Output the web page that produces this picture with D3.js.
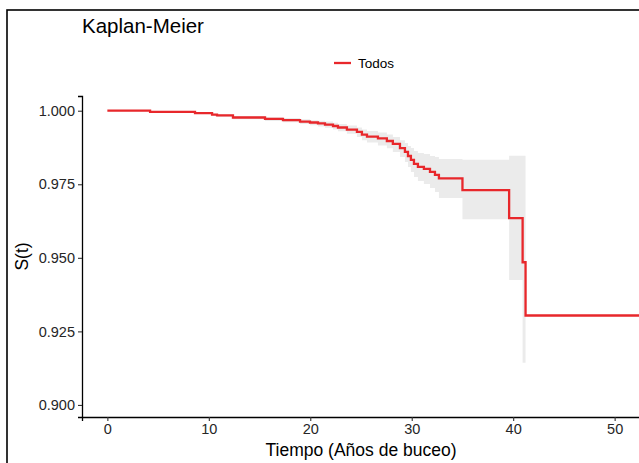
<!DOCTYPE html>
<html>
<head>
<meta charset="utf-8">
<script src="https://cdn.jsdelivr.net/npm/d3@7/dist/d3.min.js"></script>
<style>
  html, body { margin: 0; padding: 0; background: #fff; }
  svg { display: block; font-family: "Liberation Sans", Arial, sans-serif; }
</style>
</head>
<body>
<svg id="chart" width="639" height="463"></svg>
<script>
// ---- data ----
const times   = [0, 4.21, 8.64, 10.32, 10.81, 12.38, 15.54, 17.31, 18.99, 19.97, 20.76, 21.45, 22.24, 22.73, 23.61, 24.60, 25.09, 25.59, 26.67, 27.55, 28.14, 28.84, 29.33, 29.63, 29.92, 30.22, 30.61, 31.20, 31.80, 32.29, 32.68, 35.0, 39.6, 40.93, 41.22];
const surv    = [1.0000, 0.9996, 0.9992, 0.9987, 0.9984, 0.9977, 0.9972, 0.9968, 0.9963, 0.9960, 0.9957, 0.9953, 0.9948, 0.9943, 0.9936, 0.9928, 0.9919, 0.9912, 0.9906, 0.9897, 0.9887, 0.9873, 0.9860, 0.9846, 0.9833, 0.9819, 0.9809, 0.9802, 0.9792, 0.9782, 0.9770, 0.9730, 0.9635, 0.9485, 0.9304];
const upper   = [1.0000, 0.9998, 0.9996, 0.9990, 0.9988, 0.9982, 0.9978, 0.9975, 0.9971, 0.9968, 0.9966, 0.9963, 0.9959, 0.9955, 0.9950, 0.9943, 0.9936, 0.9931, 0.9926, 0.9919, 0.9911, 0.9900, 0.9890, 0.9880, 0.9873, 0.9863, 0.9856, 0.9853, 0.9846, 0.9843, 0.9836, 0.9833, 0.9847, 0.9847];
const lower   = [0.9998, 0.9993, 0.9989, 0.9983, 0.9979, 0.9971, 0.9965, 0.9961, 0.9955, 0.9951, 0.9946, 0.9942, 0.9936, 0.9930, 0.9922, 0.9911, 0.9900, 0.9892, 0.9882, 0.9872, 0.9860, 0.9843, 0.9826, 0.9809, 0.9792, 0.9775, 0.9761, 0.9751, 0.9737, 0.9724, 0.9703, 0.9631, 0.9425, 0.9143];
const lastTime = 53;
const xTicks = [0, 10, 20, 30, 40, 50];
const yTicks = [0.900, 0.925, 0.950, 0.975, 1.000];
const seriesName = "Todos";
const titleText = "Kaplan-Meier";
const xLabel = "Tiempo (Años de buceo)";
const yLabel = "S(t)";

// ---- layout ----
const svg = d3.select("#chart");
const pLeft = 82, pRight = 640, pTop = 96, pBottom = 417;
const x = d3.scaleLinear().domain([-2.5, 52.5]).range([pLeft, pRight]);
const y = d3.scaleLinear().domain([0.8959, 1.0050]).range([pBottom, pTop]);

// outer border (cropped)
svg.append("rect").attr("x", 7).attr("y", 10).attr("width", 700).attr("height", 500)
  .attr("fill", "none").attr("stroke", "#000").attr("stroke-width", 1.6);

svg.append("defs").append("clipPath").attr("id", "clip")
  .append("rect").attr("x", pLeft).attr("y", pTop - 5).attr("width", pRight - pLeft).attr("height", pBottom - pTop + 5);

const g = svg.append("g").attr("clip-path", "url(#clip)");

// confidence band
const bandEnd = times[upper.length];
const bandData = upper.map((u, i) => ({t: times[i], u: u, l: lower[i]}));
bandData.push({t: bandEnd, u: upper[upper.length - 1], l: lower[lower.length - 1]});
g.append("path")
  .datum(bandData)
  .attr("fill", "#ebebeb")
  .attr("d", d3.area().curve(d3.curveStepAfter)
    .x(d => x(d.t)).y0(d => y(d.l)).y1(d => y(d.u)));

// survival curve
const lineData = times.map((t, i) => ({t: t, s: surv[i]}));
lineData.push({t: lastTime, s: surv[surv.length - 1]});
g.append("path")
  .datum(lineData)
  .attr("fill", "none")
  .attr("stroke", "#e8272b")
  .attr("stroke-width", 2.3)
  .attr("d", d3.line().curve(d3.curveStepAfter).x(d => x(d.t)).y(d => y(d.s)));

// axes
const xAxis = svg.append("g").attr("transform", `translate(0,${pBottom})`)
  .call(d3.axisBottom(x).tickValues(xTicks).tickFormat(d3.format("d")).tickSizeOuter(0).tickSize(4).tickPadding(3));
const yAxis = svg.append("g").attr("transform", `translate(${pLeft},0)`)
  .call(d3.axisLeft(y).tickValues(yTicks).tickFormat(d3.format(".3f")).tickSizeOuter(0).tickSize(4).tickPadding(3));
[xAxis, yAxis].forEach(a => {
  a.select(".domain").attr("stroke", "#000").attr("stroke-width", 1.3);
  a.selectAll(".tick line").attr("stroke", "#333").attr("stroke-width", 1.1);
  a.selectAll(".tick text").attr("fill", "#262626").style("font-size", "14.5px")
    .style("font-family", "'Liberation Sans', Arial, sans-serif");
});

// titles
svg.append("text").attr("x", 82).attr("y", 33).text(titleText)
  .style("font-size", "20.5px").attr("fill", "#000");
svg.append("text").attr("x", (pLeft + pRight) / 2).attr("y", 456).attr("text-anchor", "middle")
  .text(xLabel).style("font-size", "17.5px").attr("fill", "#000");
svg.append("text").attr("transform", `translate(28,${(pTop + pBottom) / 2}) rotate(-90)`)
  .attr("text-anchor", "middle").text(yLabel).style("font-size", "17.5px").attr("fill", "#000");

// legend
svg.append("line").attr("x1", 334).attr("x2", 351).attr("y1", 63).attr("y2", 63)
  .attr("stroke", "#e8272b").attr("stroke-width", 2.3);
svg.append("text").attr("x", 358).attr("y", 68).text(seriesName)
  .style("font-size", "13.5px").attr("fill", "#000");
</script>
</body>
</html>
